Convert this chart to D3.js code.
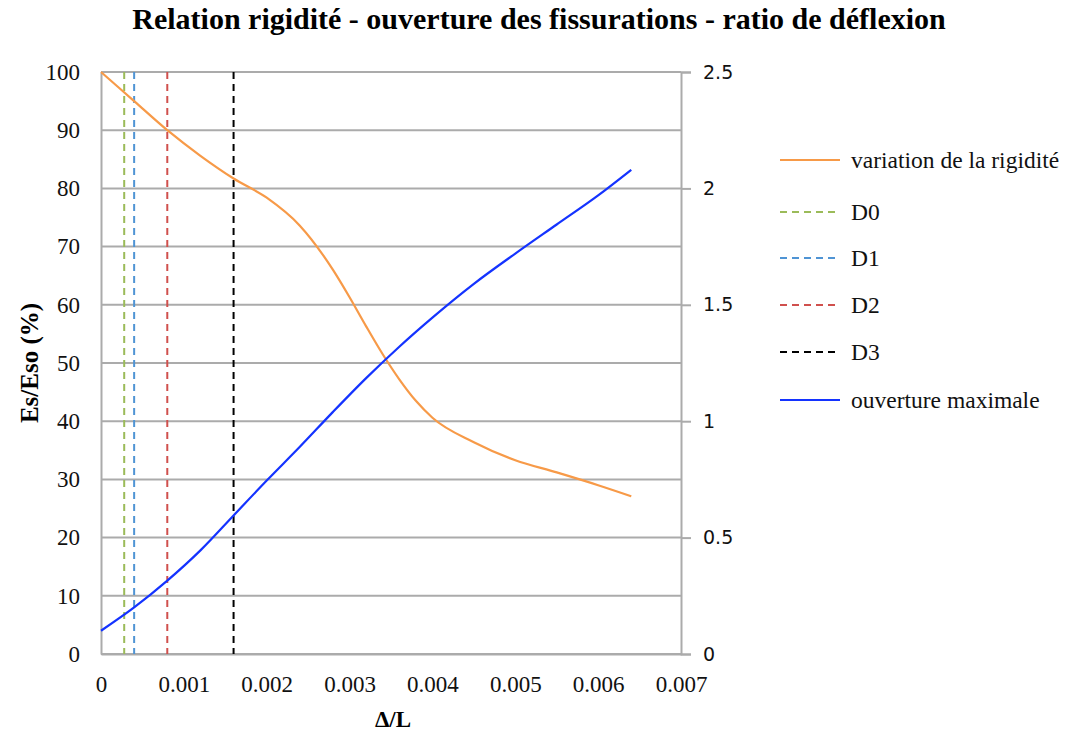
<!DOCTYPE html>
<html><head><meta charset="utf-8">
<script src="https://cdn.jsdelivr.net/npm/d3@7"></script>
<style>body{margin:0;background:#fff}</style>
</head><body>
<svg id="c" width="1079" height="733"></svg>
<script>
const rigX = [0,0.0004,0.0008,0.0012,0.0016,0.002,0.0024,0.0028,0.003,0.0032,0.0034,0.0036,0.0038,0.004,0.0045,0.005,0.0055,0.006,0.0064];
const rigY = [100,95,90,85.6,81.7,78.4,73.6,66,61.3,56.3,51.5,47.2,43.5,40.6,36.4,33.3,31.2,29.0,27.1];
const ouvX = [0,0.0004,0.0008,0.0012,0.0016,0.002,0.0024,0.0028,0.0032,0.0036,0.004,0.0045,0.005,0.0055,0.006,0.0064];
const ouvY = [0.1,0.2,0.315,0.445,0.595,0.745,0.89,1.04,1.185,1.32,1.445,1.59,1.72,1.845,1.97,2.08];
const dNames = ["D0","D1","D2","D3"];
const dX = [0.00028,0.0004,0.0008,0.0016];
const dColors = ["#9bbb59","#4f94d4","#d0504d","#000000"];
const xTicks = [0,0.001,0.002,0.003,0.004,0.005,0.006,0.007];
const xTickLabels = ["0","0.001","0.002","0.003","0.004","0.005","0.006","0.007"];
const yTicks = [0,10,20,30,40,50,60,70,80,90,100];
const y2Ticks = [0,0.5,1,1.5,2,2.5];
const y2TickLabels = ["0","0.5","1","1.5","2","2.5"];
const legendNames = ["variation de la rigidité","D0","D1","D2","D3","ouverture maximale"];

const svg = d3.select("#c");
const L=101,R=681,T=72,B=654;
const x = d3.scaleLinear().domain([0,0.007]).range([L,R]);
const y = d3.scaleLinear().domain([0,100]).range([B,T]);
const y2 = d3.scaleLinear().domain([0,2.5]).range([B,T]);
const grid="#ababab";

// gridlines
svg.append("g").selectAll("line").data(yTicks).join("line")
  .attr("x1",L).attr("x2",R).attr("y1",d=>y(d)).attr("y2",d=>y(d))
  .attr("stroke",grid).attr("stroke-width",2);

// left axis
const gl = svg.append("g").attr("transform",`translate(${L},0)`)
  .call(d3.axisLeft(y).tickValues(yTicks).tickSize(0).tickPadding(21));
gl.select(".domain").attr("stroke",grid).attr("stroke-width",2);
gl.selectAll("text").attr("font-family","Liberation Serif").attr("font-size",23).attr("fill","#111");

// right axis
const gr = svg.append("g").attr("transform",`translate(${R},0)`)
  .call(d3.axisRight(y2).tickValues(y2Ticks).tickSize(10).tickPadding(12).tickFormat((d,i)=>y2TickLabels[i]));
gr.select(".domain").attr("stroke",grid).attr("stroke-width",2);
gr.selectAll("line").attr("stroke",grid).attr("stroke-width",2);
gr.selectAll("text").attr("font-family","DejaVu Sans").attr("font-size",19).attr("fill","#111");

// bottom axis
const gb = svg.append("g").attr("transform",`translate(0,${B})`)
  .call(d3.axisBottom(x).tickValues(xTicks).tickSize(0).tickPadding(22).tickFormat((d,i)=>xTickLabels[i]));
gb.select(".domain").attr("stroke",grid).attr("stroke-width",2);
gb.selectAll("text").attr("font-family","Liberation Serif").attr("font-size",23).attr("fill","#111");

// D lines
svg.append("g").selectAll("line").data(dX).join("line")
  .attr("x1",d=>x(d)).attr("x2",d=>x(d)).attr("y1",y(100)).attr("y2",y(0))
  .attr("stroke",(d,i)=>dColors[i]).attr("stroke-width",2).attr("stroke-dasharray","7,5");

const line1 = d3.line().x(d=>x(d[0])).y(d=>y(d[1])).curve(d3.curveMonotoneX);
const line2 = d3.line().x(d=>x(d[0])).y(d=>y2(d[1])).curve(d3.curveMonotoneX);
svg.append("path").datum(rigX.map((v,i)=>[v,rigY[i]])).attr("d",line1)
  .attr("fill","none").attr("stroke","#f79a48").attr("stroke-width",2.2);
svg.append("path").datum(ouvX.map((v,i)=>[v,ouvY[i]])).attr("d",line2)
  .attr("fill","none").attr("stroke","#1433ff").attr("stroke-width",2.2);

// title
svg.append("text").attr("x",539).attr("y",29).attr("text-anchor","middle")
  .attr("font-family","Liberation Serif").attr("font-weight","bold").attr("font-size",30)
  .text("Relation rigidité - ouverture des fissurations - ratio de déflexion");
svg.append("text").attr("x",393).attr("y",727).attr("text-anchor","middle")
  .attr("font-family","Liberation Serif").attr("font-weight","bold").attr("font-size",23).text("Δ/L");
svg.append("text").attr("transform",`translate(38,${(T+B)/2}) rotate(-90)`).attr("text-anchor","middle")
  .attr("font-family","Liberation Serif").attr("font-weight","bold").attr("font-size",25).text("Es/Eso (%)");

// legend
const legColors = ["#f79a48",...dColors,"#1433ff"];
const legDash = [null,"7,5","7,5","7,5","7,5",null];
const legY = [160,212,258,305,352,400];
const lg = svg.append("g").selectAll("g").data(legendNames).join("g")
  .attr("transform",(d,i)=>`translate(780,${legY[i]})`);
lg.append("line").attr("x1",0).attr("x2",60).attr("stroke",(d,i)=>legColors[i]).attr("stroke-width",2)
  .attr("stroke-dasharray",(d,i)=>legDash[i]);
lg.append("text").attr("x",71).attr("y",8).attr("font-family","Liberation Serif").attr("font-size",23.5)
  .attr("fill","#111").text(d=>d);
</script>
</body></html>
